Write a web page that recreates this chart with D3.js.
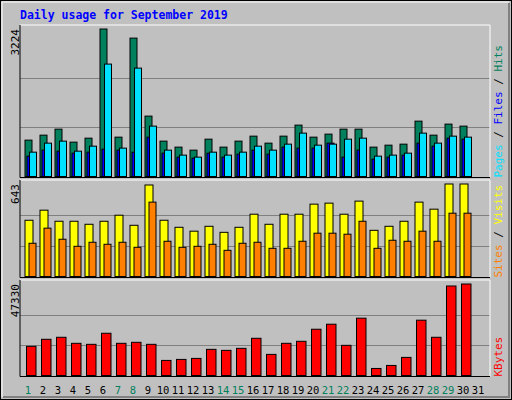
<!DOCTYPE html>
<html><head><meta charset="utf-8">
<script src="https://cdn.jsdelivr.net/npm/d3@7"></script>
<style>body{margin:0;background:#fff}text{font-family:"DejaVu Sans Mono",monospace}</style>
</head><body><svg id="svg" width="512" height="400"></svg>
<script>
var days = d3.range(1, 32);
var weekend = [1, 7, 8, 14, 15, 21, 22, 28, 29];
var hits = [795,904,1035,751,838,3224,860,3025,1320,773,642,576,816,642,773,882,729,882,1123,860,926,1035,1035,642,685,707,1210,904,1145,1101];
var files = [532,729,773,554,663,2457,620,2369,1101,576,467,423,532,467,532,663,576,707,948,685,707,816,838,445,467,510,948,729,882,860];
var pages = [445,576,554,510,532,598,576,532,860,510,423,401,510,423,488,576,488,642,620,620,729,423,576,379,423,467,729,663,838,816];
var visits = [391,461,384,384,363,384,426,356,636,391,342,315,349,307,342,433,363,433,433,503,510,433,524,321,349,384,517,468,643,643];
var sites = [231,336,259,210,238,224,238,203,517,245,203,210,224,182,231,238,196,196,245,301,301,294,384,196,252,245,315,245,440,440];
var kbytes = [15086,18727,19768,16646,16126,21848,16646,17167,16126,7803,8323,8843,13525,13005,14045,19247,10924,16646,17687,23929,26530,15606,29651,3641,5202,9364,28611,19768,46298,47330];

var svg = d3.select("#svg");
var left = 20, right = 490;

// frame
svg.append("rect").attr("x", 0.5).attr("y", 0.5).attr("width", 511).attr("height", 399)
    .attr("fill", "#c0c0c0").attr("stroke", "#000");
svg.append("path").attr("d", "M2,397V2H509").attr("fill", "none").attr("stroke", "#fff");
svg.append("path").attr("d", "M3,397H509V3").attr("fill", "none").attr("stroke", "#808080").attr("stroke-width", 2);

svg.append("text").attr("x", 20).attr("y", 19).attr("fill", "#0000ff")
    .attr("font-size", 11.5).attr("font-weight", "bold").text("Daily usage for September 2019");

var x = d3.scaleBand().domain(days).range([left + 0.5, left + 0.5 + 15 * 31]).padding(0);

function panel(top, base, max, series, labelTop, legend) {
    var y = d3.scaleLinear().domain([0, max]).range([base, top]);
    svg.append("rect").attr("x", left).attr("y", top - 4).attr("width", right - left).attr("height", base - top + 5)
        .attr("fill", "#c0c0c0");
    [1, 2].forEach(function(k) {
        svg.append("line").attr("x1", left).attr("x2", right)
            .attr("y1", Math.round(y(max * k / 3)) + 0.5).attr("y2", Math.round(y(max * k / 3)) + 0.5)
            .attr("stroke", "#808080");
    });
    series.forEach(function(s) {
        svg.append("g").selectAll("rect").data(s.values).enter().append("rect")
            .attr("x", function(d, i) { return x(days[i]) + s.dx; })
            .attr("width", s.w)
            .attr("y", function(d) { return y(d); })
            .attr("height", function(d) { return base - y(d); })
            .attr("fill", s.color).attr("stroke", "#000").attr("stroke-width", 1);
    });
    svg.append("path").attr("d", "M" + left + "," + (top - 4) + "H" + right + "V" + (base + 1))
        .attr("fill", "none").attr("stroke", "#fff");
    svg.append("path").attr("d", "M" + left + "," + (top - 4) + "V" + (base + 1) + "H" + right)
        .attr("fill", "none").attr("stroke", "#000");
    svg.append("text").attr("transform", "translate(19," + (top) + ") rotate(-90)")
        .attr("text-anchor", "end").attr("font-size", 11).attr("fill", "#000").text(labelTop);
    var t = svg.append("text").attr("transform", "translate(502," + (base + 1) + ") rotate(-90)")
        .attr("font-size", 11);
    legend.forEach(function(l, i) {
        if (i > 0) t.append("tspan").attr("fill", "#000").text(" / ");
        t.append("tspan").attr("fill", l[1]).text(l[0]);
    });
}

panel(29, 176.5, 3224, [
    {values: hits, color: "#00805c", dx: 4.5, w: 7},
    {values: pages, color: "#0000ff", dx: 6.5, w: 7},
    {values: files, color: "#00e0ff", dx: 9, w: 7}
], "3224", [["Pages", "#00e0ff"], ["Files", "#0000ff"], ["Hits", "#00805c"]]);

panel(184, 276.5, 643, [
    {values: visits, color: "#ffff00", dx: 4.5, w: 8},
    {values: sites, color: "#ff8000", dx: 8.5, w: 7}
], "643", [["Sites", "#ff8000"], ["Visits", "#ffff00"]]);

panel(284, 375.5, 47330, [
    {values: kbytes, color: "#ff0000", dx: 6, w: 9.5}
], "47330", [["KBytes", "#ff0000"]]);

svg.append("g").selectAll("text").data(days).enter().append("text")
    .attr("x", function(d) { return x(d) + 7.5; }).attr("y", 394)
    .attr("text-anchor", "middle").attr("font-size", 10.5)
    .attr("fill", function(d) { return weekend.indexOf(d) >= 0 ? "#00805c" : "#000"; })
    .text(function(d) { return d; });
</script></body></html>
